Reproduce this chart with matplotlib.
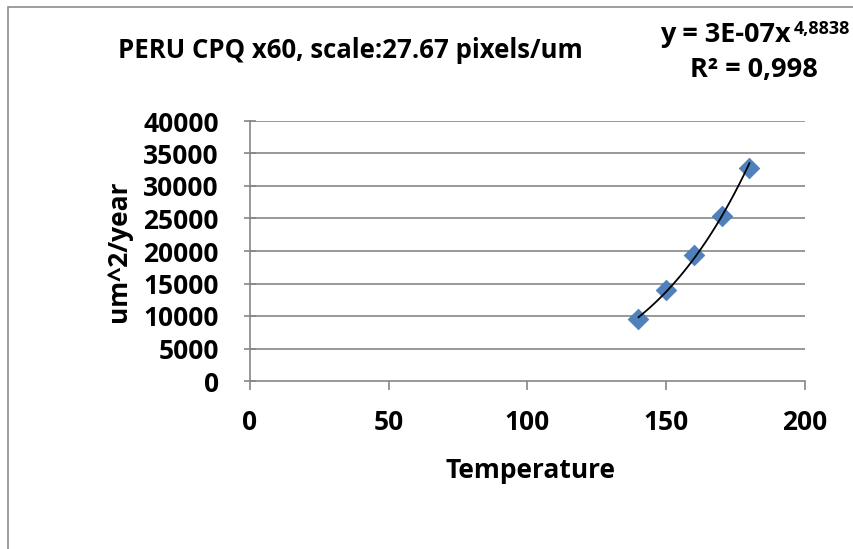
import numpy as np
import matplotlib
matplotlib.use("Agg")
import matplotlib.pyplot as plt
from matplotlib.patches import Rectangle

plt.rcParams['font.family'] = ['Open Sans', 'DejaVu Sans']
plt.rcParams['font.weight'] = 'bold'

# data
temperature = [140, 150, 160, 170, 180]
rate = [9550, 14000, 19400, 25400, 32800]
x_ticks = [0, 50, 100, 150, 200]
y_ticks = [0, 5000, 10000, 15000, 20000, 25000, 30000, 35000, 40000]

fig = plt.figure(figsize=(8.54, 5.49), dpi=100)
W, H = 854, 549
ax = fig.add_axes([250 / W, 1 - 381 / H, 555 / W, 260 / H])

# outer chart border (only left/top visible)
fig.patches.append(Rectangle((8 / W, -0.1), 1.2, 1 - 7 / H + 0.1,
                             transform=fig.transFigure, fill=False,
                             edgecolor='#8c8c8c', linewidth=1.2))

grid_c = '#868686'
for v in y_ticks[1:]:
    ax.axhline(v, color=grid_c, lw=1.2, zorder=1)

# power trendline
b, ln_a = np.polyfit(np.log(temperature), np.log(rate), 1)
xs = np.linspace(temperature[0], temperature[-1], 100)
ax.plot(xs, np.exp(ln_a) * xs ** b, color='black', lw=1.3, zorder=3)

ax.scatter(temperature, rate, marker='D', s=110, color='#4f81bd',
           edgecolors='#4a7ab5', linewidths=0.5, zorder=2)

ax.set_xlim(0, 200)
ax.set_ylim(0, 40000)
ax.set_xticks(x_ticks)
ax.set_yticks(y_ticks)
for s in ['top', 'right']:
    ax.spines[s].set_visible(False)
for s in ['left', 'bottom']:
    ax.spines[s].set_color(grid_c)
    ax.spines[s].set_linewidth(1.2)
ax.tick_params(axis='y', direction='inout', length=9, width=1.2, color=grid_c,
               labelsize=19, pad=18)
ax.tick_params(axis='x', direction='out', length=6.5, width=1.2, color=grid_c,
               labelsize=19, pad=14)
for lab in ax.get_xticklabels() + ax.get_yticklabels():
    lab.set_fontweight('bold')

ax.set_xlabel('Temperature', fontsize=19, fontweight='bold', va='baseline')
ax.xaxis.set_label_coords(0.505, (381 - 478) / 260)
ax.set_ylabel('um^2/year', fontsize=19, fontweight='bold', va='center')
ax.yaxis.set_label_coords((118 - 250) / 555, 0.5)

fig.text(350 / W, 1 - 58 / H, 'PERU CPQ x60, scale:27.67 pixels/um',
         fontsize=18.5, fontweight='bold', ha='center', va='baseline')
fig.text(660 / W, 1 - 42 / H, 'y = 3E-07x',
         fontsize=19.5, fontweight='bold', ha='left', va='baseline')
fig.text(794 / W, 1 - 34 / H, '4,8838',
         fontsize=13, fontweight='bold', ha='left', va='baseline')
fig.text(754 / W, 1 - 77 / H, 'R² = 0,998',
         fontsize=19.5, fontweight='bold', ha='center', va='baseline')

fig.savefig('out.png', dpi=100)
